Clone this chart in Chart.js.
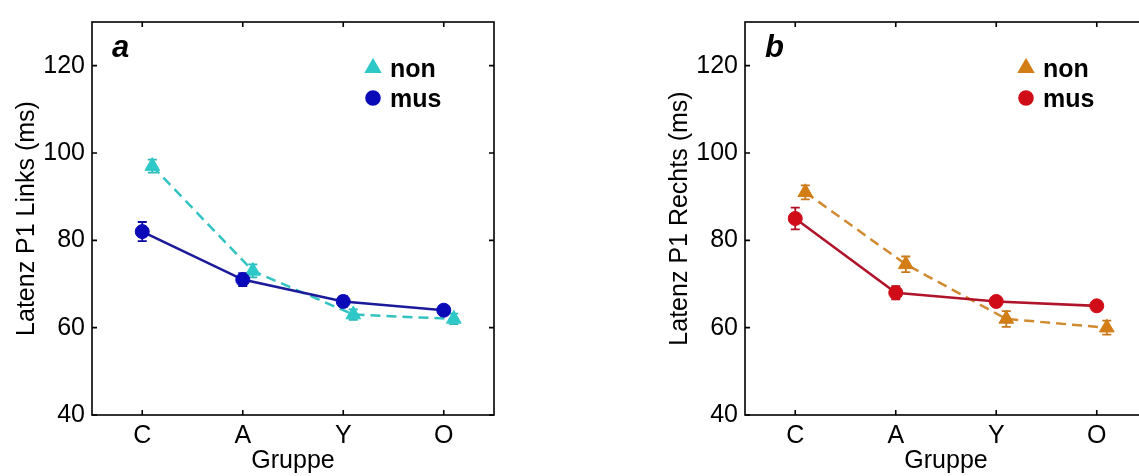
<!DOCTYPE html>
<html><head><meta charset="utf-8">
<script src="https://cdn.jsdelivr.net/npm/chart.js@4.4.1/dist/chart.umd.min.js"></script>
<style>
html,body{margin:0;padding:0;background:#fff;overflow:hidden;}
#wrap{position:relative;width:1139px;height:476px;overflow:hidden;background:#fff;}
.panel{position:absolute;top:0;width:520px;height:476px;}
</style></head><body>
<div id="wrap">
<div class="panel" style="left:0"><canvas id="c1"></canvas></div>
<div class="panel" style="left:653px"><canvas id="c2"></canvas></div>
</div>
<script>
const categories = ['C', 'A', 'Y', 'O'];
const xPositions = [1, 2, 3, 4];
const nonOffset = 0.1;
const yTicks = [40, 60, 80, 100, 120];
const xTitle = 'Gruppe';
const seriesLabels = ['non', 'mus'];

// Panel a: Latenz P1 Links
const linksNon = [97, 73, 63, 62];
const linksNonErr = [1.5, 1.5, 1.2, 1.2];
const linksMus = [82, 71, 66, 64];
const linksMusErr = [2.2, 1.5, 1.2, 1.0];

// Panel b: Latenz P1 Rechts
const rechtsNon = [91, 74.5, 62, 60];
const rechtsNonErr = [1.6, 1.8, 1.8, 1.6];
const rechtsMus = [85, 68, 66, 65];
const rechtsMusErr = [2.5, 1.5, 1.0, 1.0];

const FONT = "'Liberation Sans', Arial, sans-serif";

const framePlugin = {
  id: 'frame',
  beforeDatasetsDraw(chart) {
    const ctx = chart.ctx, ys = chart.scales.y;
    chart.data.datasets.forEach((ds, i) => {
      const meta = chart.getDatasetMeta(i);
      ctx.save();
      ctx.strokeStyle = ds.errColor;
      ctx.lineWidth = 1.8;
      meta.data.forEach((pt, j) => {
        const v = ds.data[j].y, e = ds.err[j];
        const yt = ys.getPixelForValue(v + e), yb = ys.getPixelForValue(v - e);
        ctx.beginPath();
        ctx.moveTo(pt.x, yt); ctx.lineTo(pt.x, yb);
        ctx.moveTo(pt.x - 4.5, yt); ctx.lineTo(pt.x + 4.5, yt);
        ctx.moveTo(pt.x - 4.5, yb); ctx.lineTo(pt.x + 4.5, yb);
        ctx.stroke();
      });
      ctx.restore();
    });
  },
  afterDraw(chart, args, opts) {
    const ctx = chart.ctx, a = chart.chartArea;
    const xs = chart.scales.x, ys = chart.scales.y;
    ctx.save();
    ctx.strokeStyle = '#000';
    ctx.lineWidth = 1.6;
    ctx.strokeRect(a.left, a.top, a.right - a.left, a.bottom - a.top);
    const tl = 5;
    ctx.beginPath();
    xs.ticks.forEach(t => {
      const px = xs.getPixelForValue(t.value);
      ctx.moveTo(px, a.bottom); ctx.lineTo(px, a.bottom - tl);
      ctx.moveTo(px, a.top); ctx.lineTo(px, a.top + tl);
    });
    ys.ticks.forEach(t => {
      const py = ys.getPixelForValue(t.value);
      ctx.moveTo(a.left, py); ctx.lineTo(a.left + tl, py);
      ctx.moveTo(a.right, py); ctx.lineTo(a.right - tl, py);
    });
    ctx.stroke();

    // panel letter
    ctx.fillStyle = '#000';
    ctx.font = "italic bold 31px " + FONT;
    ctx.textBaseline = 'alphabetic';
    ctx.textAlign = 'left';
    ctx.fillText(opts.letter, a.left + 20, a.top + 35);

    // legend (non first, then mus)
    opts.legendOrder.forEach((di, k) => {
      const ds = chart.data.datasets[di];
      const my = a.top + 46 + k * 30;
      const mx = a.left + 281;
      ctx.fillStyle = ds.pointBackgroundColor;
      ctx.strokeStyle = ds.pointBorderColor;
      Chart.helpers.drawPoint(ctx, {pointStyle: ds.pointStyle, radius: ds.pointRadius, rotation: 0, borderWidth: 1}, mx, my);
      ctx.fillStyle = '#000';
      ctx.font = "bold 25px " + FONT;
      ctx.textBaseline = 'alphabetic';
      ctx.fillText(ds.label, a.left + 298, my + 9);
    });
    ctx.restore();
  }
};

function toPoints(vals, off) {
  return vals.map((v, i) => ({x: xPositions[i] + off, y: v}));
}

function makeChart(id, letter, yTitle, non, nonErr, mus, musErr, c) {
  return new Chart(document.getElementById(id), {
    type: 'line',
    data: {
      datasets: [
        {
          label: seriesLabels[0], data: toPoints(non, nonOffset), err: nonErr,
          borderColor: c.nonLine, borderWidth: 2.5, borderDash: [10, 6],
          pointStyle: 'triangle', pointRadius: 8.5,
          pointBackgroundColor: c.non, pointBorderColor: c.non, pointBorderWidth: 1,
          errColor: c.nonErr, order: 1, fill: false, tension: 0
        },
        {
          label: seriesLabels[1], data: toPoints(mus, 0), err: musErr,
          borderColor: c.musLine, borderWidth: 2.6,
          pointStyle: 'circle', pointRadius: 7,
          pointBackgroundColor: c.mus, pointBorderColor: c.mus, pointBorderWidth: 1,
          errColor: c.musErr, order: 0, fill: false, tension: 0
        }
      ]
    },
    options: {
      responsive: true, maintainAspectRatio: false, animation: false,
      layout: {padding: {top: 12, right: 26, bottom: 0, left: 0}},
      plugins: {
        legend: {display: false}, tooltip: {enabled: false},
        frame: {letter: letter, legendOrder: [0, 1]}
      },
      scales: {
        x: {
          type: 'linear', min: 0.5, max: 4.5,
          afterBuildTicks: s => { s.ticks = xPositions.map(v => ({value: v})); },
          afterFit: s => { s.height = 61; },
          grid: {display: false, drawTicks: false},
          border: {display: false},
          ticks: {
            padding: 6, color: '#000', font: {family: FONT, size: 25},
            callback: v => categories[xPositions.indexOf(v)], maxRotation: 0, autoSkip: false
          },
          title: {display: true, text: xTitle, color: '#000', font: {family: FONT, size: 25, lineHeight: 1.2}, padding: {top: 0, bottom: 0}}
        },
        y: {
          type: 'linear', min: 40, max: 130,
          afterBuildTicks: s => { s.ticks = yTicks.map(v => ({value: v})); },
          afterFit: s => { s.width = 92; },
          grid: {display: false, drawTicks: false},
          border: {display: false},
          ticks: {padding: 7, color: '#000', font: {family: FONT, size: 25}},
          title: {display: true, text: yTitle, color: '#000', font: {family: FONT, size: 25, lineHeight: 1.2}, padding: {top: 12, bottom: 0}}
        }
      }
    },
    plugins: [framePlugin]
  });
}

makeChart('c1', 'a', 'Latenz P1 Links (ms)', linksNon, linksNonErr, linksMus, linksMusErr, {
  non: '#2ec8c8', nonLine: '#33c2c2', nonErr: '#2ab8b8',
  mus: '#0a0ab8', musLine: '#1a1a9a', musErr: '#0a0aa0'
});
makeChart('c2', 'b', 'Latenz P1 Rechts (ms)', rechtsNon, rechtsNonErr, rechtsMus, rechtsMusErr, {
  non: '#d27d16', nonLine: '#d08a30', nonErr: '#c8781a',
  mus: '#d00c18', musLine: '#b0142a', musErr: '#b01020'
});
</script>
</body></html>
